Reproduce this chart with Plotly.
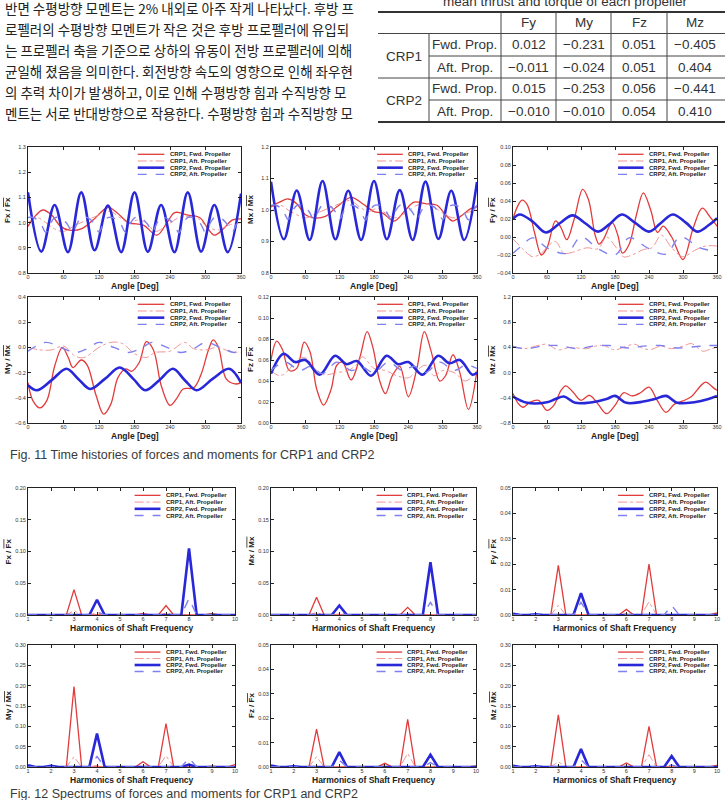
import plotly.graph_objects as go

W, H = 725, 800
FONT = "Liberation Sans, Arial, Helvetica, sans-serif"
KFONT = "Noto Sans CJK KR, sans-serif"

# ---------------- text content ----------------
korean_lines = [
    "반면 수평방향 모멘트는 2% 내외로 아주 작게 나타났다. 후방 프",
    "로펠러의 수평방향 모멘트가 작은 것은 후방 프로펠러에 유입되",
    "는 프로펠러 축을 기준으로 상하의 유동이 전방 프로펠러에 의해",
    "균일해 졌음을 의미한다. 회전방향 속도의 영향으로 인해 좌우현",
    "의 추력 차이가 발생하고, 이로 인해 수평방향 힘과 수직방향 모",
    "멘트는 서로 반대방향으로 작용한다. 수평방향 힘과 수직방향 모",
]
table_title = "mean thrust and torque of each propeller"
table_cols = ["Fy", "My", "Fz", "Mz"]
table_groups = ["CRP1", "CRP2"]
table_props = ["Fwd. Prop.", "Aft. Prop.", "Fwd. Prop.", "Aft. Prop."]
crp1_fwd_mean = [0.012, -0.231, 0.051, -0.405]
crp1_aft_mean = [-0.011, -0.024, 0.051, 0.404]
crp2_fwd_mean = [0.015, -0.253, 0.056, -0.441]
crp2_aft_mean = [-0.010, -0.010, 0.054, 0.410]
caption_11 = "Fig. 11 Time histories of forces and moments for CRP1 and CRP2"
caption_12 = "Fig. 12 Spectrums of forces and moments for CRP1 and CRP2"
series_names = ["CRP1, Fwd. Propeller", "CRP1, Aft. Propeller",
                "CRP2, Fwd. Propeller", "CRP2, Aft. Propeller"]

# ---------------- time histories ----------------
ang_22p5 = [0, 22.5, 45, 67.5, 90, 112.5, 135, 157.5, 180, 202.5, 225, 247.5,
            270, 292.5, 315, 337.5, 360]
ang_7p5 = [0, 7.5, 15, 22.5, 30, 37.5, 45, 52.5, 60, 67.5, 75, 82.5, 90, 97.5,
           105, 112.5, 120, 127.5, 135, 142.5, 150, 157.5, 165, 172.5, 180,
           187.5, 195, 202.5, 210, 217.5, 225, 232.5, 240, 247.5, 255, 262.5,
           270, 277.5, 285, 292.5, 300, 307.5, 315, 322.5, 330, 337.5, 345,
           352.5, 360]

# Fx
fx_c1f_ang = [0, 10, 25, 40, 55, 70, 90, 110, 135, 150, 170, 195, 218, 235, 248, 270, 290, 303, 315, 330, 345, 360]
fx_c1f_val = [0.985, 1.02, 1.05, 1.03, 0.985, 0.97, 0.975, 1.01, 1.06, 1.04, 1.0, 0.99, 0.95, 1.0, 1.04, 1.03, 1.02, 0.98, 0.95, 0.975, 1.01, 1.015]
fx_c1a_ang = [0, 15, 30, 45, 60, 80, 100, 120, 138, 155, 170, 185, 200, 215, 235, 255, 270, 285, 300, 320, 340, 360]
fx_c1a_val = [1.0, 1.02, 1.0, 0.975, 0.965, 0.99, 1.01, 1.03, 1.045, 1.02, 1.0, 1.01, 1.0, 0.965, 0.99, 1.02, 1.025, 1.02, 0.99, 0.97, 0.99, 1.0]
fx_c2f_val = [1.12, 0.885, 1.07, 0.883, 1.12, 0.89, 1.068, 0.883, 1.12, 0.884, 1.07, 0.883, 1.12, 0.885, 1.07, 0.883, 1.115]
fx_c2a_val = [1.020, 1.021, 1.012, 0.992, 0.962, 0.996,
              1.019, 1.020, 1.010, 0.990, 0.960, 0.994,
              1.021, 1.022, 1.013, 0.993, 0.963, 0.997,
              1.020, 1.020, 1.011, 0.991, 0.961, 0.995,
              1.019, 1.021, 1.012, 0.992, 0.962, 0.996,
              1.020, 1.019, 1.010, 0.990, 0.960, 0.994,
              1.021, 1.021, 1.012, 0.992, 0.962, 0.996,
              1.020, 1.020, 1.011, 0.991, 0.961, 0.995,
              1.020]
# Mx
mx_c1f_ang = [0, 15, 30, 45, 60, 75, 95, 115, 140, 160, 180, 195, 215, 235, 250, 270, 290, 305, 318, 335, 350, 360]
mx_c1f_val = [1.01, 1.025, 1.035, 1.02, 0.985, 0.975, 0.98, 1.01, 1.04, 1.02, 0.995, 0.99, 0.965, 1.0, 1.025, 1.02, 1.015, 0.985, 0.965, 0.985, 1.005, 1.01]
mx_c1a_ang = [0, 15, 30, 45, 60, 80, 100, 120, 138, 155, 170, 185, 200, 215, 235, 255, 270, 285, 300, 320, 340, 360]
mx_c1a_val = [0.995, 1.015, 1.0, 0.985, 0.975, 0.99, 1.005, 1.02, 1.03, 1.01, 0.995, 1.005, 0.99, 0.975, 0.99, 1.015, 1.02, 1.01, 0.99, 0.975, 0.99, 1.0]
mx_c2f_val = [1.09, 0.907, 1.062, 0.905, 1.092, 0.907, 1.061, 0.905, 1.092, 0.907, 1.063, 0.905, 1.09, 0.908, 1.061, 0.905, 1.089]
mx_c2a_val = [1.015, 1.016, 1.009, 0.993, 0.970, 0.997,
              1.014, 1.015, 1.008, 0.992, 0.968, 0.996,
              1.016, 1.016, 1.010, 0.994, 0.971, 0.998,
              1.015, 1.015, 1.009, 0.993, 0.969, 0.996,
              1.014, 1.016, 1.009, 0.992, 0.970, 0.997,
              1.015, 1.014, 1.008, 0.992, 0.968, 0.996,
              1.016, 1.016, 1.010, 0.993, 0.970, 0.997,
              1.015, 1.015, 1.009, 0.992, 0.969, 0.996,
              1.015]
# Fy
fy_c1f_ang = [0, 8, 16, 25, 38, 50, 60, 75, 85, 95, 108, 123, 133, 145, 152, 160, 175, 185, 193, 205, 218, 230, 243, 255, 265, 280, 300, 318, 334, 348, 360]
fy_c1f_val = [0.020, 0.034, 0.041, 0.036, 0.005, -0.020, -0.012, 0.018, 0.010, -0.003, 0.020, 0.053, 0.042, 0.002, -0.008, -0.002, 0.016, 0.002, -0.018, -0.008, 0.025, 0.049, 0.030, 0.005, 0.012, 0.000, -0.025, 0.010, 0.032, 0.022, 0.012]
fy_c1a_ang = [0, 20, 35, 50, 62, 75, 90, 105, 130, 150, 165, 180, 195, 210, 230, 245, 262, 280, 300, 320, 340, 360]
fy_c1a_val = [-0.002, -0.015, -0.022, -0.018, -0.010, -0.005, -0.018, -0.017, -0.012, -0.013, 0.000, -0.010, -0.022, -0.020, -0.014, -0.012, 0.002, -0.012, -0.022, -0.015, -0.010, -0.010]
fy_c2f_ang = [0, 12, 35, 58, 82, 105, 128, 150, 170, 192, 215, 240, 260, 282, 305, 325, 345, 360]
fy_c2f_val = [0.020, 0.025, 0.017, 0.005, 0.015, 0.024, 0.015, 0.006, 0.014, 0.025, 0.016, 0.006, 0.015, 0.025, 0.016, 0.006, 0.013, 0.021]
fy_c2a_ang = [0, 15, 35, 60, 95, 120, 150, 180, 205, 240, 270, 295, 330, 360]
fy_c2a_val = [-0.018, -0.010, -0.001, -0.012, -0.018, 0.000, -0.013, -0.020, -0.001, -0.013, -0.019, 0.000, -0.012, -0.016]
# My
my_c1f_ang = [0, 8, 20, 32, 45, 58, 68, 76, 90, 100, 115, 128, 140, 152, 165, 175, 188, 200, 212, 225, 240, 252, 262, 280, 292, 305, 313, 322, 335, 350, 360]
my_c1f_val = [-0.28, -0.42, -0.48, -0.42, -0.15, 0.00, -0.08, -0.16, -0.10, -0.14, -0.38, -0.53, -0.45, -0.24, -0.17, -0.19, -0.12, 0.045, -0.02, -0.30, -0.46, -0.40, -0.33, -0.32, -0.22, -0.02, 0.06, 0.00, -0.25, -0.29, -0.28]
my_c1a_ang = [0, 20, 40, 60, 80, 95, 120, 140, 160, 180, 200, 215, 240, 265, 280, 300, 320, 340, 360]
my_c1a_val = [0.00, -0.02, -0.02, 0.01, -0.07, -0.08, 0.00, 0.04, 0.03, -0.05, -0.08, -0.04, -0.03, 0.04, -0.01, -0.02, 0.00, -0.03, -0.04]
my_c2f_ang = [0, 15, 40, 65, 85, 105, 130, 155, 178, 198, 222, 245, 265, 285, 312, 340, 360]
my_c2f_val = [-0.30, -0.34, -0.26, -0.17, -0.25, -0.33, -0.25, -0.16, -0.25, -0.34, -0.26, -0.17, -0.26, -0.34, -0.25, -0.17, -0.28]
my_c2a_ang = [0, 30, 55, 80, 100, 120, 145, 170, 190, 210, 235, 258, 280, 300, 325, 348, 360]
my_c2a_val = [-0.03, 0.04, 0.00, -0.04, -0.01, 0.04, 0.00, -0.04, -0.01, 0.04, 0.00, -0.04, -0.01, 0.04, 0.00, -0.04, -0.03]
# Fz
fz_c1f_ang = [0, 10, 20, 32, 45, 58, 68, 80, 92, 105, 115, 125, 140, 155, 168, 178, 190, 200, 212, 225, 240, 255, 268, 280, 295, 305, 318, 330, 345, 360]
fz_c1f_val = [0.060, 0.078, 0.070, 0.050, 0.052, 0.077, 0.068, 0.032, 0.017, 0.032, 0.055, 0.058, 0.041, 0.062, 0.087, 0.072, 0.040, 0.028, 0.045, 0.054, 0.025, 0.052, 0.087, 0.068, 0.040, 0.045, 0.065, 0.048, 0.013, 0.050]
fz_c1a_ang = [0, 15, 30, 45, 60, 80, 95, 115, 135, 150, 160, 180, 200, 220, 240, 255, 270, 285, 300, 320, 340, 360]
fz_c1a_val = [0.050, 0.045, 0.050, 0.060, 0.062, 0.050, 0.046, 0.048, 0.050, 0.056, 0.063, 0.052, 0.050, 0.045, 0.043, 0.050, 0.055, 0.045, 0.050, 0.048, 0.040, 0.050]
fz_c2f_ang = [0, 22, 42, 60, 85, 112, 132, 150, 175, 202, 222, 240, 265, 292, 312, 330, 352, 360]
fz_c2f_val = [0.047, 0.066, 0.058, 0.060, 0.046, 0.064, 0.056, 0.059, 0.045, 0.064, 0.056, 0.058, 0.046, 0.064, 0.057, 0.060, 0.046, 0.048]
fz_c2a_ang = [0, 25, 50, 70, 90, 115, 140, 160, 180, 205, 230, 250, 270, 295, 320, 340, 360]
fz_c2a_val = [0.050, 0.058, 0.050, 0.054, 0.047, 0.058, 0.050, 0.053, 0.048, 0.058, 0.050, 0.054, 0.048, 0.058, 0.050, 0.055, 0.052]
# Mz
mz_c1f_ang = [0, 10, 18, 30, 45, 60, 72, 85, 93, 105, 120, 135, 150, 165, 180, 195, 210, 225, 240, 255, 270, 285, 300, 315, 330, 340, 355, 360]
mz_c1f_val = [-0.33, -0.50, -0.55, -0.47, -0.44, -0.60, -0.52, -0.28, -0.21, -0.30, -0.44, -0.36, -0.50, -0.65, -0.52, -0.32, -0.37, -0.32, -0.23, -0.45, -0.63, -0.50, -0.45, -0.38, -0.22, -0.15, -0.25, -0.28]
mz_c1a_ang = [0, 20, 40, 60, 80, 100, 130, 145, 160, 180, 200, 215, 230, 245, 260, 280, 300, 315, 335, 350, 360]
mz_c1a_val = [0.42, 0.38, 0.42, 0.45, 0.36, 0.40, 0.38, 0.42, 0.43, 0.36, 0.42, 0.45, 0.38, 0.37, 0.42, 0.38, 0.42, 0.46, 0.34, 0.38, 0.40]
mz_c2f_ang = [0, 25, 60, 75, 90, 110, 140, 165, 180, 200, 230, 250, 270, 290, 320, 345, 360]
mz_c2f_val = [-0.38, -0.48, -0.47, -0.42, -0.38, -0.48, -0.47, -0.42, -0.37, -0.48, -0.46, -0.42, -0.37, -0.48, -0.47, -0.42, -0.37]
mz_c2a_ang = [0, 25, 50, 80, 115, 140, 170, 205, 230, 260, 290, 320, 345, 360]
mz_c2a_val = [0.41, 0.38, 0.42, 0.43, 0.38, 0.42, 0.43, 0.39, 0.42, 0.43, 0.39, 0.41, 0.43, 0.43]

# ---------------- spectra: amplitude at harmonics 1..10 ----------------
harmonics = [1, 2, 3, 4, 5, 6, 7, 8, 9, 10]
sfx_c1f = [0, 0, 0.040, 0, 0, 0.002, 0.015, 0, 0.002, 0]
sfx_c1a = [0, 0, 0.007, 0.004, 0, 0, 0.003, 0, 0, 0]
sfx_c2f = [0, 0, 0, 0.024, 0, 0, 0, 0.105, 0, 0]
sfx_c2a = [0, 0, 0, 0.005, 0, 0, 0, 0.026, 0, 0]
smx_c1f = [0, 0, 0.028, 0, 0, 0.001, 0.012, 0, 0.001, 0]
smx_c1a = [0, 0, 0.004, 0.002, 0, 0, 0.002, 0, 0, 0]
smx_c2f = [0, 0, 0, 0.015, 0, 0, 0, 0.083, 0, 0]
smx_c2a = [0, 0, 0, 0.003, 0, 0, 0, 0.020, 0, 0]
sfy_c1f = [0.0005, 0, 0.0195, 0, 0, 0.0022, 0.020, 0, 0, 0.0008]
sfy_c1a = [0, 0, 0.0038, 0, 0, 0.0005, 0.0052, 0, 0, 0]
sfy_c2f = [0.0005, 0.0003, 0, 0.0086, 0, 0, 0, 0, 0, 0]
sfy_c2a = [0, 0, 0, 0.005, 0, 0, 0, 0.0038, 0, 0]
smy_c1f = [0.003, 0, 0.198, 0, 0, 0.013, 0.107, 0, 0.002, 0.006]
smy_c1a = [0, 0, 0.025, 0.004, 0, 0.003, 0.028, 0, 0, 0]
smy_c2f = [0.004, 0.003, 0, 0.082, 0, 0, 0, 0.006, 0, 0]
smy_c2a = [0, 0, 0, 0.026, 0, 0, 0, 0.022, 0, 0]
sfz_c1f = [0, 0, 0.0155, 0, 0, 0.0015, 0.0195, 0, 0, 0.0005]
sfz_c1a = [0, 0, 0.0042, 0, 0, 0.0005, 0.0056, 0, 0, 0]
sfz_c2f = [0.0006, 0.0003, 0, 0.0061, 0, 0, 0, 0.005, 0, 0]
sfz_c2a = [0, 0, 0, 0.0028, 0, 0, 0, 0.0018, 0, 0]
smz_c1f = [0, 0, 0.128, 0, 0, 0.010, 0.100, 0, 0, 0.004]
smz_c1a = [0, 0, 0.013, 0, 0, 0.002, 0.030, 0, 0, 0]
smz_c2f = [0.003, 0.002, 0, 0.044, 0, 0, 0, 0.027, 0, 0]
smz_c2a = [0, 0, 0, 0.018, 0, 0, 0, 0.005, 0, 0]


def spectrum_xy(amps):
    xs, ys = [], []
    for i, (h, a) in enumerate(zip(harmonics, amps)):
        xs.append(h)
        ys.append(a)
        if i < len(harmonics) - 1:
            xs += [h + 1 / 3, h + 2 / 3]
            ys += [0, 0]
    return xs, ys


def ytitle(num, den):
    return ("<b>%s / <span style=\"text-decoration:overline\">%s</span></b>" % (num, den))


# ---------------- layout geometry ----------------
time_x = [(28, 241), (271, 477), (513, 717)]
time_y = [(147, 273), (297, 423)]
spec_x = [(28, 235), (271, 476), (513, 717)]
spec_y = [(488, 615), (645, 767)]

styles = [
    dict(color="#e23b3b", width=1.3, dash="solid"),
    dict(color="#f08a8a", width=0.9, dash="dashdot"),
    dict(color="#2828d8", width=2.6, dash="solid"),
    dict(color="#8080f0", width=1.4, dash="dash"),
]

panels = [
    dict(kind="t", box=time_x[0] + time_y[0], yr=[0.8, 1.3], dt=0.1, fmt=".1f", yt=ytitle("Fx", "Fx"),
         data=[(fx_c1f_ang, fx_c1f_val), (fx_c1a_ang, fx_c1a_val), (ang_22p5, fx_c2f_val), (ang_7p5, fx_c2a_val)]),
    dict(kind="t", box=time_x[1] + time_y[0], yr=[0.8, 1.2], dt=0.1, fmt=".1f", yt=ytitle("Mx", "Mx"),
         data=[(mx_c1f_ang, mx_c1f_val), (mx_c1a_ang, mx_c1a_val), (ang_22p5, mx_c2f_val), (ang_7p5, mx_c2a_val)]),
    dict(kind="t", box=time_x[2] + time_y[0], yr=[-0.04, 0.10], dt=0.02, fmt=".2f", yt=ytitle("Fy", "Fx"),
         data=[(fy_c1f_ang, fy_c1f_val), (fy_c1a_ang, fy_c1a_val), (fy_c2f_ang, fy_c2f_val), (fy_c2a_ang, fy_c2a_val)]),
    dict(kind="t", box=time_x[0] + time_y[1], yr=[-0.6, 0.4], dt=0.2, fmt=".1f", yt=ytitle("My", "Mx"),
         data=[(my_c1f_ang, my_c1f_val), (my_c1a_ang, my_c1a_val), (my_c2f_ang, my_c2f_val), (my_c2a_ang, my_c2a_val)]),
    dict(kind="t", box=time_x[1] + time_y[1], yr=[0.0, 0.12], dt=0.02, fmt=".2f", yt=ytitle("Fz", "Fx"),
         data=[(fz_c1f_ang, fz_c1f_val), (fz_c1a_ang, fz_c1a_val), (fz_c2f_ang, fz_c2f_val), (fz_c2a_ang, fz_c2a_val)]),
    dict(kind="t", box=time_x[2] + time_y[1], yr=[-0.8, 1.2], dt=0.4, fmt=".1f", yt=ytitle("Mz", "Mx"),
         data=[(mz_c1f_ang, mz_c1f_val), (mz_c1a_ang, mz_c1a_val), (mz_c2f_ang, mz_c2f_val), (mz_c2a_ang, mz_c2a_val)]),
    dict(kind="s", box=spec_x[0] + spec_y[0], yr=[0, 0.2], dt=0.05, fmt=".2f", yt=ytitle("Fx", "Fx"),
         data=[spectrum_xy(a) for a in (sfx_c1f, sfx_c1a, sfx_c2f, sfx_c2a)]),
    dict(kind="s", box=spec_x[1] + spec_y[0], yr=[0, 0.2], dt=0.05, fmt=".2f", yt=ytitle("Mx", "Mx"),
         data=[spectrum_xy(a) for a in (smx_c1f, smx_c1a, smx_c2f, smx_c2a)]),
    dict(kind="s", box=spec_x[2] + spec_y[0], yr=[0, 0.05], dt=0.01, fmt=".2f", yt=ytitle("Fy", "Fx"),
         data=[spectrum_xy(a) for a in (sfy_c1f, sfy_c1a, sfy_c2f, sfy_c2a)]),
    dict(kind="s", box=spec_x[0] + spec_y[1], yr=[0, 0.3], dt=0.05, fmt=".2f", yt=ytitle("My", "Mx"),
         data=[spectrum_xy(a) for a in (smy_c1f, smy_c1a, smy_c2f, smy_c2a)]),
    dict(kind="s", box=spec_x[1] + spec_y[1], yr=[0, 0.05], dt=0.01, fmt=".2f", yt=ytitle("Fz", "Fx"),
         data=[spectrum_xy(a) for a in (sfz_c1f, sfz_c1a, sfz_c2f, sfz_c2a)]),
    dict(kind="s", box=spec_x[2] + spec_y[1], yr=[0, 0.3], dt=0.05, fmt=".2f", yt=ytitle("Mz", "Mx"),
         data=[spectrum_xy(a) for a in (smz_c1f, smz_c1a, smz_c2f, smz_c2a)]),
]

fig = go.Figure()
layout = {}
annotations = []
shapes = []


def px(x):
    return x / W


def py(y):
    return 1 - y / H


for i, p in enumerate(panels, start=1):
    x0, x1, y0, y1 = p["box"]
    sfx = "" if i == 1 else str(i)
    xa, ya = "x" + sfx, "y" + sfx
    ax_common = dict(showline=True, linecolor="#222", linewidth=1, mirror="ticks",
                     ticks="inside", ticklen=3, tickwidth=0.8, tickcolor="#222",
                     tickfont=dict(size=5.5, family=FONT, color="#333"),
                     showgrid=False, zeroline=False, fixedrange=True)
    if p["kind"] == "t":
        xr, xdt, xtitle = [0, 360], 60, "<b>Angle [Deg]</b>"
    else:
        xr, xdt, xtitle = [1, 10], 1, "<b>Harmonics of Shaft Frequency</b>"
    layout["xaxis" + sfx] = dict(ax_common, domain=[px(x0), px(x1)], range=xr, dtick=xdt,
                                 tick0=xr[0], anchor=ya, ticklabelstandoff=-2)
    layout["yaxis" + sfx] = dict(ax_common, domain=[py(y1), py(y0)], range=p["yr"], dtick=p["dt"],
                                 tick0=p["yr"][0], tickformat=p["fmt"], anchor=xa)
    for k, (xs, ys) in enumerate(p["data"]):
        st = styles[k]
        fig.add_trace(go.Scatter(
            x=xs, y=ys, mode="lines", xaxis=xa, yaxis=ya, name=series_names[k],
            line=dict(color=st["color"], width=st["width"], dash=st["dash"],
                      shape="spline" if p["kind"] == "t" else "linear", smoothing=1.0),
            showlegend=False, hoverinfo="skip"))
    # legend drawn inside plot
    for k in range(4):
        st = styles[k]
        fy = 1 - (0.058 + 0.053 * k)
        shapes.append(dict(type="line", xref=xa + " domain", yref=ya + " domain",
                           x0=0.515, x1=0.64, y0=fy, y1=fy,
                           line=dict(color=st["color"], width=st["width"], dash=st["dash"])))
        annotations.append(dict(xref=xa + " domain", yref=ya + " domain", x=0.655, y=fy,
                                xanchor="left", yanchor="middle", showarrow=False,
                                text="<b>%s</b>" % series_names[k],
                                font=dict(size=6, family=FONT, color="#222")))
    # axis titles
    annotations.append(dict(xref="paper", yref="paper", x=px((x0 + x1) / 2), y=py(y1 + 13),
                            xanchor="center", yanchor="middle", showarrow=False, text=xtitle,
                            font=dict(size=8.5, family=FONT, color="#222")))
    annotations.append(dict(xref="paper", yref="paper", x=px(x0 - 20), y=py((y0 + y1) / 2),
                            xanchor="center", yanchor="middle", showarrow=False, text=p["yt"],
                            textangle=-90, font=dict(size=8, family=FONT, color="#222")))

# ---------------- Korean paragraph ----------------
for j, line in enumerate(korean_lines):
    annotations.append(dict(xref="paper", yref="paper", x=px(3), y=py(8.5 + 20.8 * j),
                            xanchor="left", yanchor="middle", showarrow=False, text=line,
                            font=dict(size=13.5, family=KFONT, color="#222")))

# ---------------- table ----------------
TL, TR = 378, 725
vx = [429, 501, 556, 611, 667]
hy = [12, 33.5, 56, 78, 100, 122]
shapes.append(dict(type="line", xref="paper", yref="paper", x0=px(TL), x1=px(TR), y0=py(hy[0]), y1=py(hy[0]),
                   line=dict(color="#333", width=2)))
shapes.append(dict(type="line", xref="paper", yref="paper", x0=px(TL), x1=px(TR), y0=py(hy[5]), y1=py(hy[5]),
                   line=dict(color="#333", width=2)))
for yy in (hy[1], hy[3]):
    shapes.append(dict(type="line", xref="paper", yref="paper", x0=px(TL), x1=px(TR), y0=py(yy), y1=py(yy),
                       line=dict(color="#444", width=1)))
for yy in (hy[2], hy[4]):
    shapes.append(dict(type="line", xref="paper", yref="paper", x0=px(vx[0]), x1=px(TR), y0=py(yy), y1=py(yy),
                       line=dict(color="#444", width=1)))
shapes.append(dict(type="line", xref="paper", yref="paper", x0=px(vx[0]), x1=px(vx[0]), y0=py(hy[1]), y1=py(hy[5]),
                   line=dict(color="#444", width=1)))
for xx in vx[1:]:
    shapes.append(dict(type="line", xref="paper", yref="paper", x0=px(xx), x1=px(xx), y0=py(hy[0]), y1=py(hy[5]),
                       line=dict(color="#444", width=1)))

TFONT = dict(size=13.5, family=FONT, color="#333")


def tcell(x, y, text):
    annotations.append(dict(xref="paper", yref="paper", x=px(x), y=py(y), xanchor="center",
                            yanchor="middle", showarrow=False, text=text, font=TFONT))


annotations.append(dict(xref="paper", yref="paper", x=px(565), y=py(2), xanchor="center",
                        yanchor="middle", showarrow=False, text=table_title, font=TFONT))
col_cx = [(vx[1] + vx[2]) / 2, (vx[2] + vx[3]) / 2, (vx[3] + vx[4]) / 2, (vx[4] + TR) / 2 - 1]
for c, name in enumerate(table_cols):
    tcell(col_cx[c], (hy[0] + hy[1]) / 2, name)
tcell((TL + vx[0]) / 2, hy[2], table_groups[0])
tcell((TL + vx[0]) / 2, hy[4], table_groups[1])
rows = [crp1_fwd_mean, crp1_aft_mean, crp2_fwd_mean, crp2_aft_mean]
for r, vals in enumerate(rows):
    yc = (hy[1 + r] + hy[2 + r]) / 2
    tcell((vx[0] + vx[1]) / 2, yc, table_props[r])
    for c, v in enumerate(vals):
        tcell(col_cx[c], yc, ("%.3f" % v).replace("-", "\u2212"))

# ---------------- captions ----------------
for txt, yy in ((caption_11, 455), (caption_12, 794)):
    annotations.append(dict(xref="paper", yref="paper", x=px(8), y=py(yy), xanchor="left",
                            yanchor="middle", showarrow=False, text=txt,
                            font=dict(size=12.5, family=FONT, color="#3a3a3a")))

layout.update(dict(width=W, height=H, margin=dict(l=0, r=0, t=0, b=0, autoexpand=False),
                   paper_bgcolor="white", plot_bgcolor="white", showlegend=False,
                   annotations=annotations, shapes=shapes))
fig.update_layout(**layout)
fig.write_html("out.html")
